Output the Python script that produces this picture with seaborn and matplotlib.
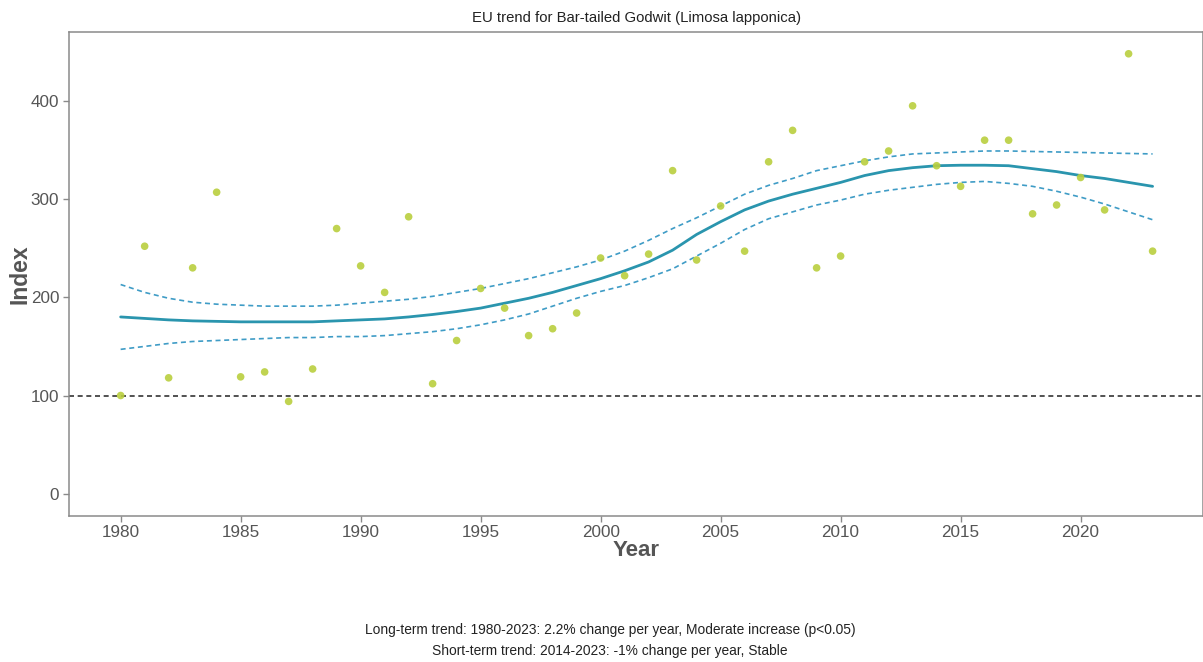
import numpy as np
import pandas as pd
import matplotlib
matplotlib.use("Agg")
import matplotlib.pyplot as plt
import seaborn as sns

# ---- data ----
years = list(range(1980, 2024))

index_values = [100, 252, 118, 230, 307, 119, 124, 94, 127, 270,
                232, 205, 282, 112, 156, 209, 189, 161, 168, 184,
                240, 222, 244, 329, 238, 293, 247, 338, 370, 230,
                242, 338, 349, 395, 334, 313, 360, 360, 285, 294,
                322, 289, 448, 247]

trend = [180, 178.5, 177, 176, 175.5, 175, 175, 175, 175, 176,
         177, 178, 180, 182.5, 185.5, 189, 194, 199, 205, 212,
         219, 227, 236, 248, 264, 277, 289, 298, 305, 311,
         317, 324, 329, 332, 334, 334.5, 334.5, 334, 331, 328,
         324, 321, 317, 313]

upper = [213, 205, 199, 195, 193, 192, 191, 191, 191, 192,
         194, 196, 198, 201, 205, 209, 214, 219, 225, 231,
         238, 247, 258, 270, 281, 293, 305, 314, 321, 329,
         334, 339, 343, 346, 347, 348, 349, 349, 348.5, 348,
         347.5, 347, 346.5, 346]

lower = [147, 150, 153, 155, 156, 157, 158, 159, 159, 160,
         160, 161, 163, 165, 168, 172, 177, 183, 191, 199,
         206, 212, 220, 229, 242, 255, 269, 280, 287, 294,
         299, 305, 309, 312, 315, 317, 318, 316, 313, 308,
         302, 295, 287, 279]

title = "EU trend for Bar-tailed Godwit (Limosa lapponica)"
footer_long = "Long-term trend: 1980-2023: 2.2% change per year, Moderate increase (p<0.05)"
footer_short = "Short-term trend: 2014-2023: -1% change per year, Stable"

df = pd.DataFrame({"Year": years, "Index": index_values, "trend": trend,
                   "upper": upper, "lower": lower})

sns.set_style("white")
plt.rcParams["font.family"] = ["Liberation Sans", "DejaVu Sans"]

fig = plt.figure(figsize=(12.03, 6.62), dpi=100)
ax = fig.add_axes([0.0574, 0.221, 0.9426, 0.731])

point_color = "#B9CF3E"
line_color = "#2A95AE"
ci_color = "#3F9CC6"

ax.axhline(100, color="#333333", lw=1.2, ls=(0, (3, 2.2)), zorder=1)
sns.lineplot(data=df, x="Year", y="upper", ax=ax, color=ci_color, lw=1.2,
             linestyle=(0, (3, 2.2)), zorder=2)
sns.lineplot(data=df, x="Year", y="lower", ax=ax, color=ci_color, lw=1.2,
             linestyle=(0, (3, 2.2)), zorder=2)
sns.lineplot(data=df, x="Year", y="trend", ax=ax, color=line_color, lw=2.0,
             zorder=3)
sns.scatterplot(data=df, x="Year", y="Index", ax=ax, color=point_color,
                s=30, edgecolor="none", alpha=0.9, zorder=4)

ax.set_xlim(1977.85, 2025.1)
ax.set_ylim(-22.4, 470.4)
ax.set_xticks(range(1980, 2021, 5))
ax.set_yticks(range(0, 401, 100))

for side in ["top", "right", "bottom", "left"]:
    ax.spines[side].set_visible(True)
    ax.spines[side].set_color("#8a8a8a")
    ax.spines[side].set_linewidth(1.1)

ax.tick_params(axis="both", which="both", direction="out", length=4,
               width=1, color="#8a8a8a", labelsize=12.3, labelcolor="#555555",
               bottom=True, left=True, pad=3)

ax.set_xlabel("Year", fontsize=16, fontweight="bold", color="#555555",
              labelpad=0)
ax.set_ylabel("Index", fontsize=16.5, fontweight="bold", color="#555555")
ax.yaxis.set_label_coords(-0.0335, 0.5)
ax.set_title(title, fontsize=10.7, color="#222222", pad=7)

fig.text(0.507, 0.049, footer_long, ha="center", va="center", fontsize=9.9,
         color="#222222")
fig.text(0.507, 0.016, footer_short, ha="center", va="center", fontsize=9.9,
         color="#222222")

fig.savefig("out.png", dpi=100)
